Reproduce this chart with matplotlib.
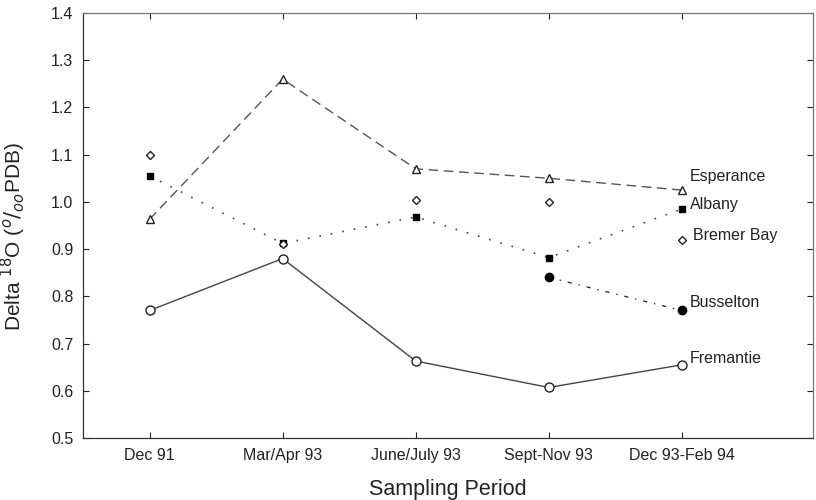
import matplotlib
matplotlib.use("Agg")
import matplotlib.pyplot as plt
import numpy as np

plt.rcParams["font.family"] = ["Liberation Sans", "DejaVu Sans"]

periods = ["Dec 91", "Mar/Apr 93", "June/July 93", "Sept-Nov 93", "Dec 93-Feb 94"]

esperance = [0.963, 1.260, 1.070, 1.050, 1.025]
albany = [1.055, 0.912, 0.968, 0.882, 0.985]
bremer_bay = [1.100, 0.910, 1.003, 1.000, 0.920]
busselton = [np.nan, np.nan, np.nan, 0.840, 0.770]
fremantle = [0.770, 0.880, 0.663, 0.607, 0.655]

site_labels = ["Esperance", "Albany", "Bremer Bay", "Busselton", "Fremantie"]
label_offsets = [(6, 10), (6, 3), (8, 3), (6, 5.5), (6, 4.5)]

x = np.arange(len(periods))
ink = "#222222"

fig = plt.figure(figsize=(8.16, 5.0), dpi=100)
ax = fig.add_axes([0.1017, 0.124, 0.8946, 0.850])

ax.plot(x, esperance, color="#555555", linestyle=(0, (7, 4)), linewidth=1.0,
        marker="^", markersize=6, markerfacecolor="white", markeredgecolor=ink)
ax.plot(x, albany, color="#444444", linestyle=(0, (1, 6)), linewidth=1.2,
        marker="s", markersize=5, markerfacecolor="black", markeredgecolor="black")
ax.plot(x, bremer_bay, linestyle="none",
        marker="D", markersize=4, markerfacecolor="white", markeredgecolor=ink)
ax.plot(x, busselton, color="#333333", linestyle=(0, (3, 5, 1, 5)), linewidth=1.0,
        marker="o", markersize=6, markerfacecolor="black", markeredgecolor="black")
ax.plot(x, fremantle, color="#444444", linestyle="-", linewidth=1.0,
        marker="o", markersize=6.5, markerfacecolor="white", markeredgecolor=ink)

for name, series, off in zip(site_labels, [esperance, albany, bremer_bay, busselton, fremantle], label_offsets):
    ax.annotate(name, (x[-1], series[-1]), xytext=off, textcoords="offset points",
                ha="left", va="center", fontsize=11.5, color=ink)

ax.set_xlim(-0.5, 4.985)
ax.set_ylim(0.5, 1.4)
ax.set_xticks(x)
ax.set_xticklabels(periods)
ax.set_yticks(np.arange(0.5, 1.41, 0.1))
ax.set_yticklabels([f"{v:.1f}" for v in np.arange(0.5, 1.41, 0.1)])
ax.tick_params(direction="in", top=True, right=True, length=4, width=0.8,
               labelsize=11.5, colors=ink, pad=7)
ax.set_xlabel("Sampling Period", fontsize=15.5, color=ink, labelpad=12)
ax.set_ylabel(r"Delta $^{18}$O ($^{o}/_{oo}$PDB)", fontsize=15, color=ink)
ax.yaxis.set_label_coords(-0.075, 0.475)

for side in ["left", "bottom"]:
    ax.spines[side].set_color("#333333")
for side in ["top", "right"]:
    ax.spines[side].set_color("#777777")
for spine in ax.spines.values():
    spine.set_linewidth(0.9)

fig.savefig("out.png", dpi=100)
